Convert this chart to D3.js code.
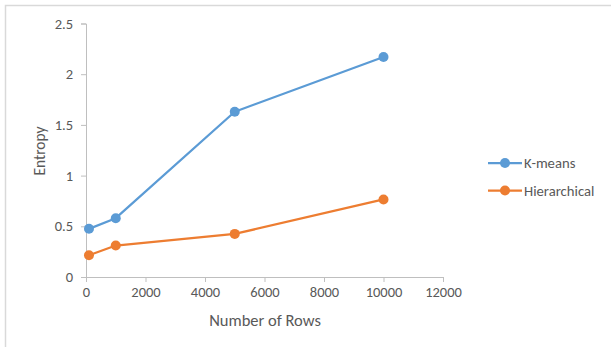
<!DOCTYPE html>
<html>
<head>
<meta charset="utf-8">
<script src="https://cdn.jsdelivr.net/npm/d3@7"></script>
<style>
  html, body { margin: 0; padding: 0; background: #fff; }
  svg { display: block; }
  text { font-family: Carlito, "Open Sans", "Liberation Sans", sans-serif; fill: #595959; }
</style>
</head>
<body>
<svg id="chart" width="611" height="347"></svg>
<script>
// Number of rows sampled and the entropy each clustering method produced
const rows = [100, 1000, 5000, 10000];
const kmeans = [0.475, 0.58, 1.63, 2.17];
const hierarchical = [0.215, 0.31, 0.425, 0.765];
const seriesNames = ["K-means", "Hierarchical"];
const seriesColors = ["#5b9bd5", "#ed7d31"];
const xTicks = [0, 2000, 4000, 6000, 8000, 10000, 12000];
const yTicks = [0, 0.5, 1, 1.5, 2, 2.5];

const series = [
  { name: seriesNames[0], color: seriesColors[0], values: kmeans },
  { name: seriesNames[1], color: seriesColors[1], values: hierarchical }
];

const fontStack = 'Carlito, "Open Sans", "Liberation Sans", sans-serif';
const svg = d3.select("#chart");

// chart frame
svg.append("rect")
  .attr("x", 5.5).attr("y", 5.5)
  .attr("width", 610).attr("height", 350)
  .attr("fill", "none").attr("stroke", "#d9d9d9").attr("stroke-width", 1.5);

const x = d3.scaleLinear().domain([0, 12000]).range([86, 443]);
const y = d3.scaleLinear().domain([0, 2.5]).range([277, 23.5]);

const axisColor = "#bfbfbf";

// x axis
const gx = svg.append("g")
  .attr("transform", `translate(0,${y(0)})`)
  .call(d3.axisBottom(x).tickValues(xTicks).tickSize(5).tickPadding(5).tickFormat(d3.format("d")));
gx.select(".domain").attr("stroke", axisColor);
gx.selectAll(".tick line").attr("stroke", axisColor);
gx.selectAll(".tick text").attr("font-size", 14.5).style("fill", "#595959")
  .style("font-family", fontStack);

// y axis
const gy = svg.append("g")
  .attr("transform", `translate(${x(0)},0)`)
  .call(d3.axisLeft(y).tickValues(yTicks).tickSize(5).tickPadding(8).tickFormat(d => String(d)));
gy.select(".domain").attr("stroke", axisColor);
gy.selectAll(".tick line").attr("stroke", axisColor);
gy.selectAll(".tick text").attr("font-size", 14.5).style("fill", "#595959")
  .style("font-family", fontStack);

// axis titles
svg.append("text")
  .attr("x", 265).attr("y", 326)
  .attr("text-anchor", "middle")
  .attr("font-size", 16.5)
  .text("Number of Rows");

svg.append("text")
  .attr("transform", "translate(45,151) rotate(-90)")
  .attr("text-anchor", "middle")
  .attr("font-size", 15.5)
  .text("Entropy");

// series lines and markers
const line = d3.line()
  .x((d, i) => x(rows[i]))
  .y(d => y(d));

series.forEach(s => {
  svg.append("path")
    .datum(s.values)
    .attr("d", line)
    .attr("fill", "none")
    .attr("stroke", s.color)
    .attr("stroke-width", 2.25)
    .attr("stroke-linejoin", "round");

  svg.selectAll(null)
    .data(s.values)
    .enter()
    .append("circle")
    .attr("cx", (d, i) => x(rows[i]))
    .attr("cy", d => y(d))
    .attr("r", 5)
    .attr("fill", s.color);
});

// legend
const legend = svg.append("g");
series.forEach((s, i) => {
  const ly = 163 + i * 27.5;
  legend.append("line")
    .attr("x1", 488).attr("x2", 522)
    .attr("y1", ly).attr("y2", ly)
    .attr("stroke", s.color).attr("stroke-width", 2.25);
  legend.append("circle")
    .attr("cx", 505).attr("cy", ly).attr("r", 5).attr("fill", s.color);
  legend.append("text")
    .attr("x", 524).attr("y", ly)
    .attr("dy", "0.35em")
    .attr("font-size", 14.7)
    .text(s.name);
});
</script>
</body>
</html>
